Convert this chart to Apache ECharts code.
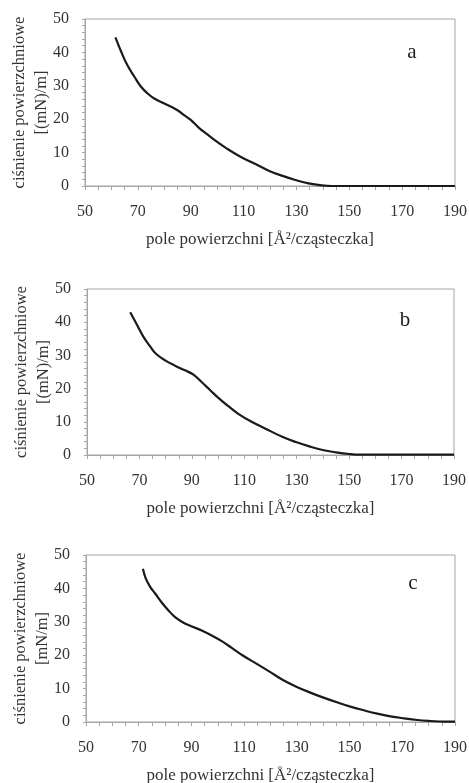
<!DOCTYPE html>
<html>
<head>
<meta charset="utf-8">
<script src="https://cdn.jsdelivr.net/npm/echarts@6/dist/echarts.min.js"></script>
<style>
  html, body { margin: 0; padding: 0; background: #fff; }
  #chart { width: 469px; height: 783px; }
</style>
</head>
<body>
<div id="chart"></div>
<script>
// dane
const xA = [61.5, 63.7, 66, 68.7, 71.2, 73.7, 76.2, 80, 85, 87.5, 90, 93, 96.2, 100, 103.7, 109, 114.5, 119.5, 124.5, 129.6, 134.6, 139.6, 143.4, 150, 160, 170, 180, 190];
const yA = [44.5, 40.2, 36.2, 32.7, 29.7, 27.7, 26.2, 24.7, 22.7, 21.2, 19.8, 17.5, 15.5, 13.2, 11.2, 8.7, 6.6, 4.6, 3.1, 1.8, 0.8, 0.2, 0, 0, 0, 0, 0, 0];

const xB = [66.5, 69, 71.6, 74.1, 76.3, 79.8, 83.6, 87.4, 90.6, 93.8, 97, 100.1, 103.9, 107.7, 112.8, 117.9, 124.7, 129.7, 134.8, 139.9, 145, 150, 154, 160, 170, 180, 190];
const yB = [43, 39.3, 35.5, 32.7, 30.5, 28.5, 26.9, 25.5, 24.2, 21.9, 19.5, 17.2, 14.7, 12.4, 10.0, 8.0, 5.4, 3.9, 2.6, 1.5, 0.8, 0.3, 0.1, 0.1, 0.1, 0.1, 0.1];

const xC = [71.6, 72.7, 74.4, 76.3, 78.8, 81.3, 83.8, 87, 90.2, 93.9, 97.7, 101.5, 105.3, 109.5, 114.8, 119.8, 124.9, 130, 135.1, 140.1, 145.2, 150.3, 155.4, 160.5, 165.5, 170.6, 175.7, 180.8, 185.8, 190];
const yC = [45.9, 42.9, 40.4, 38.4, 35.7, 33.4, 31.4, 29.7, 28.6, 27.4, 25.9, 24.2, 22.2, 19.9, 17.4, 15.0, 12.5, 10.5, 8.8, 7.3, 5.9, 4.6, 3.5, 2.5, 1.7, 1.1, 0.6, 0.3, 0.1, 0.1];

const panelLetters = ["a", "b", "c"];
const yNames = ["ciśnienie powierzchniowe\n[(mN)/m]", "ciśnienie powierzchniowe\n[(mN)/m]", "ciśnienie powierzchniowe\n[mN/m]"];
const xName = "pole powierzchni [Å²/cząsteczka]";

const FONT = "Liberation Serif";
const AXIS_COLOR = "#a6a6a6";
const TEXT_COLOR = "#333";

const pairs = (xs, ys) => xs.map((x, i) => [x, ys[i]]);

function makeX(i) {
   return {
      type: "value",
      gridIndex: i,
      min: 50,
      max: 190,
      interval: 5,
      name: xName,
      nameLocation: "middle",
      nameGap: 45,
      nameMoveOverlap: false,
      nameTextStyle: { fontFamily: FONT, fontSize: 17, color: TEXT_COLOR, padding: [0, 20, 0, 0] },
      axisLine: { lineStyle: { color: AXIS_COLOR } },
      axisTick: { length: 4, lineStyle: { color: AXIS_COLOR } },
      splitLine: { show: false },
      axisLabel: {
         margin: 18,
         fontFamily: FONT,
         fontSize: 16,
         color: TEXT_COLOR,
         formatter: (v) => ((v - 50) % 20 === 0 ? String(v) : ""),
      },
   };
}

function makeY(i) {
   return {
      type: "value",
      gridIndex: i,
      min: 0,
      max: 50,
      interval: 2,
      name: yNames[i],
      nameLocation: "middle",
      nameRotate: 90,
      nameGap: 32,
      nameMoveOverlap: false,
      nameTextStyle: { fontFamily: FONT, fontSize: 16.5, color: TEXT_COLOR, lineHeight: 22 },
      axisLine: { show: true, lineStyle: { color: AXIS_COLOR } },
      axisTick: { length: 3, lineStyle: { color: AXIS_COLOR } },
      splitLine: { show: false },
      axisLabel: {
         margin: 16,
         fontFamily: FONT,
         fontSize: 16,
         color: TEXT_COLOR,
         formatter: (v) => (v % 10 === 0 ? String(v) : ""),
      },
   };
}

const grids = [
   { left: 85, right: 14, top: 19, height: 167 },
   { left: 87, right: 15, top: 289, height: 166 },
   { left: 86, right: 14, top: 555, height: 167 },
];

const letterPos = [[412, 52], [405, 320], [413, 583]];

const myChart = echarts.init(document.getElementById("chart"));

const option = {
   backgroundColor: "#fff",
   animation: false,
   grid: grids.map((g) =>
      Object.assign({ show: true, borderColor: AXIS_COLOR, borderWidth: 1, containLabel: false, outerBoundsMode: "none" }, g)
   ),
   xAxis: [0, 1, 2].map(makeX),
   yAxis: [0, 1, 2].map(makeY),
   graphic: panelLetters.map((t, i) => ({
      type: "text",
      x: letterPos[i][0],
      y: letterPos[i][1],
      style: {
         text: t,
         fontFamily: FONT,
         fontSize: 21,
         fill: "#222",
         align: "center",
         verticalAlign: "middle",
      },
   })),
   series: [pairs(xA, yA), pairs(xB, yB), pairs(xC, yC)].map((d, i) => ({
      type: "line",
      xAxisIndex: i,
      yAxisIndex: i,
      data: d,
      smooth: 0.4,
      showSymbol: false,
      lineStyle: { color: "#1a1a1a", width: 2.2 },
   })),
};

option && myChart.setOption(option);
</script>
</body>
</html>
